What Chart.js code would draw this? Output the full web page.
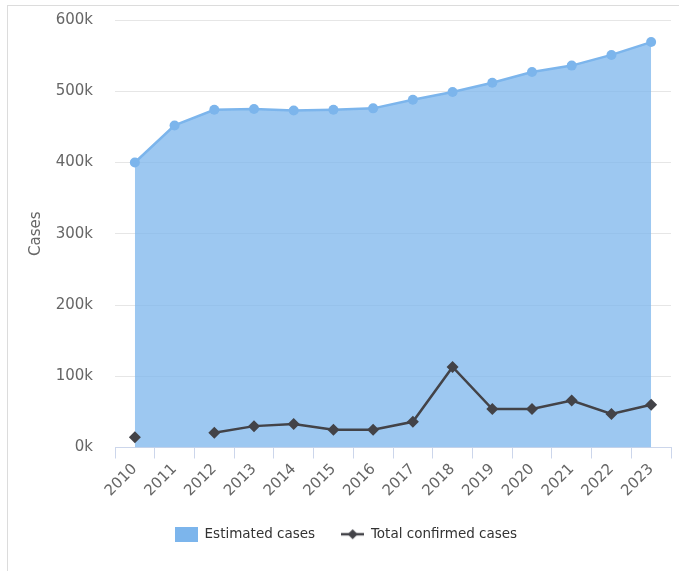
<!DOCTYPE html>
<html>
<head>
<meta charset="utf-8">
<script src="https://cdn.jsdelivr.net/npm/chart.js@4.4.0/dist/chart.umd.min.js"></script>
<style>
  html, body { margin: 0; padding: 0; background: #fff; }
  #frame { position: absolute; left: 7px; top: 5px; width: 700px; height: 600px; border: 1px solid #dcdcdc; }
  #wrap { position: absolute; left: 0; top: 0; width: 679px; height: 571px; }
</style>
</head>
<body>
<div id="frame"></div>
<div id="wrap"><canvas id="myChart"></canvas></div>
<script>
// data
const years = ['2010','2011','2012','2013','2014','2015','2016','2017','2018','2019','2020','2021','2022','2023'];
const estimated_cases = [400000, 452000, 474000, 475000, 473000, 474000, 476000, 488000, 499000, 512000, 527000, 536000, 551000, 569000];
const confirmed_cases = [14500, null, 20600, 30000, 33000, 25000, 25000, 36000, 113000, 54000, 54000, 66000, 47000, 60000];
const y_ticks = [0, 100000, 200000, 300000, 400000, 500000, 600000];

const blue = '#7cb5ec';
const dark = '#434348';

// legend symbols
function legendRect() {
    const c = document.createElement('canvas');
    c.width = 23; c.height = 15;
    const x = c.getContext('2d');
    x.fillStyle = blue;
    x.fillRect(0, 0, 23, 15);
    return c;
}
function legendLine() {
    const c = document.createElement('canvas');
    c.width = 23; c.height = 12;
    const x = c.getContext('2d');
    x.strokeStyle = dark; x.lineWidth = 2.5;
    x.beginPath(); x.moveTo(0, 6); x.lineTo(23, 6); x.stroke();
    x.fillStyle = dark;
    x.beginPath(); x.moveTo(11.5, 1); x.lineTo(16.5, 6); x.lineTo(11.5, 11); x.lineTo(6.5, 6); x.closePath(); x.fill();
    return c;
}

const ctx = document.getElementById('myChart').getContext('2d');
const myChart = new Chart(ctx, {
    type: 'line',
    data: {
        labels: years,
        datasets: [{
            label: 'Estimated cases',
            data: estimated_cases,
            order: 2,
            fill: 'origin',
            backgroundColor: 'rgba(124,181,236,0.75)',
            borderColor: blue,
            borderWidth: 2.5,
            pointRadius: 5,
            pointBackgroundColor: blue,
            pointBorderColor: blue,
            pointBorderWidth: 0,
            tension: 0
        }, {
            label: 'Total confirmed cases',
            data: confirmed_cases,
            order: 1,
            fill: false,
            borderColor: dark,
            borderWidth: 2.5,
            pointStyle: 'rectRot',
            pointRadius: 6,
            pointBackgroundColor: dark,
            pointBorderColor: dark,
            pointBorderWidth: 0,
            spanGaps: false,
            tension: 0
        }]
    },
    options: {
        responsive: true,
        maintainAspectRatio: false,
        animation: false,
        layout: { autoPadding: false, padding: { left: 21, right: 8, top: 20, bottom: 20 } },
        plugins: {
            tooltip: { enabled: false },
            legend: {
                position: 'bottom',
                labels: {
                    usePointStyle: true,
                    pointStyleWidth: 23,
                    padding: 26,
                    color: '#333333',
                    font: { family: 'DejaVu Sans', size: 13.5 },
                    generateLabels: function(chart) {
                        return [
                            { text: 'Estimated cases', pointStyle: legendRect(), datasetIndex: 0, fontColor: '#333333', lineWidth: 0, strokeStyle: 'transparent', fillStyle: blue },
                            { text: 'Total confirmed cases', pointStyle: legendLine(), datasetIndex: 1, fontColor: '#333333', lineWidth: 0, strokeStyle: 'transparent', fillStyle: dark }
                        ];
                    }
                }
            }
        },
        scales: {
            x: {
                offset: true,
                grid: {
                    offset: true,
                    drawOnChartArea: false,
                    drawTicks: true,
                    tickLength: 11,
                    tickColor: '#ccd6eb'
                },
                border: { display: true, color: '#ccd6eb', width: 1 },
                ticks: {
                    color: '#666666',
                    font: { family: 'DejaVu Sans', size: 15 },
                    minRotation: 45,
                    maxRotation: 45,
                    padding: 2
                },
                afterFit: function(axis) { axis.height = 54; }
            },
            y: {
                min: 0,
                max: 600000,
                afterBuildTicks: function(axis) { axis.ticks = y_ticks.map(v => ({ value: v })); },
                grid: { color: '#e6e6e6', drawTicks: false },
                border: { display: false },
                ticks: {
                    color: '#666666',
                    padding: 22,
                    font: { family: 'DejaVu Sans', size: 15 },
                    callback: v => (v / 1000) + 'k'
                },
                title: {
                    display: true,
                    text: 'Cases',
                    color: '#666666',
                    padding: { top: 6, bottom: 0 },
                    font: { family: 'DejaVu Sans', size: 15 }
                },
                afterFit: function(axis) {
                    axis.width = 94;
                    axis.paddingTop = 0;
                    axis.paddingBottom = 0;
                }
            }
        }
    }
});
</script>
</body>
</html>
